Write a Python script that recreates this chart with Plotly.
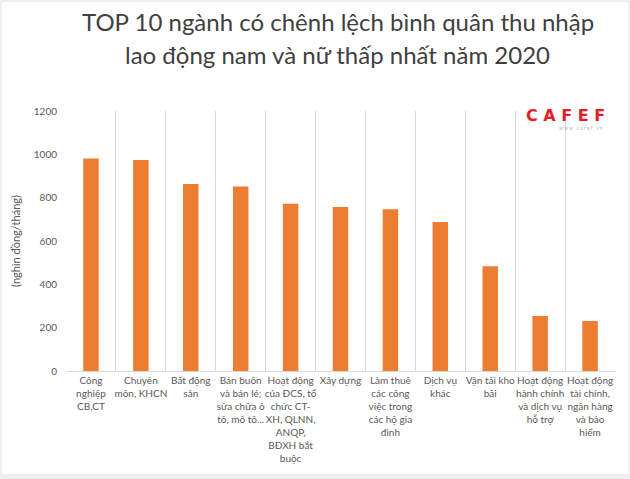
import plotly.graph_objects as go

categories = [
    "Công<br>nghiệp<br>CB,CT",
    "Chuyên<br>môn, KHCN",
    "Bất động<br>sản",
    "Bán buôn<br>và bán lẻ;<br>sửa chữa ô<br>tô, mô tô...",
    "Hoạt động<br>của ĐCS, tổ<br>chức CT-<br>XH, QLNN,<br>ANQP,<br>BĐXH bắt<br>buộc",
    "Xây dựng",
    "Làm thuê<br>các công<br>việc trong<br>các hộ gia<br>đình",
    "Dịch vụ<br>khác",
    "Vận tải kho<br>bãi",
    "Hoạt động<br>hành chính<br>và dịch vụ<br>hỗ trợ",
    "Hoạt động<br>tài chính,<br>ngân hàng<br>và bảo<br>hiểm",
]
values = [981, 974, 863, 852, 772, 757, 746, 688, 483, 254, 231]
y_ticks = [0, 200, 400, 600, 800, 1000, 1200]
title_lines = ["TOP 10 ngành có chênh lệch bình quân thu nhập",
               "lao động nam và nữ thấp nhất năm 2020"]

FONT = "Lato, Open Sans, sans-serif"
GRAY = "#595959"

fig = go.Figure(go.Bar(
    x=categories, y=values,
    marker=dict(color="#ED7D31", line=dict(width=0)),
    width=0.31,
))

fig.update_layout(
    width=630, height=479,
    margin=dict(l=66, r=15, t=111, b=108),
    paper_bgcolor="white", plot_bgcolor="white",
    showlegend=False,
    xaxis=dict(
        tickson="boundaries", showgrid=True, gridcolor="#D9D9D9", gridwidth=1,
        showline=True, linecolor="#D9D9D9", ticks="",
        tickfont=dict(family=FONT, size=10, color=GRAY),
        tickangle=0, fixedrange=True,
    ),
    yaxis=dict(
        range=[0, 1200], tickvals=y_ticks, showgrid=False, zeroline=False,
        tickfont=dict(family=FONT, size=10, color=GRAY),
        title=dict(text="(nghìn đồng/tháng)", font=dict(family=FONT, size=11, color=GRAY), standoff=10),
        ticklen=6, ticks="outside", tickcolor="white",
    ),
    font=dict(family=FONT),
)

# Title as two lines with the reference's line spacing
for i, line in enumerate(title_lines):
    fig.add_annotation(
        text=line, xref="paper", yref="paper", x=0.5 - 3 / 549, y=1 + (89 - 33 * i) / 260,
        xanchor="center", yanchor="middle", showarrow=False,
        font=dict(family=FONT, size=24, color="#404040"),
    )

fig.add_annotation(
    text="<b>C A F E F</b>", xref="paper", yref="paper", x=1.0 - 8 / 549, y=1 + 7 / 260,
    xanchor="right", yanchor="top", showarrow=False,
    font=dict(family="DejaVu Sans, sans-serif", size=16, color="#E21F26"),
)
fig.add_annotation(
    text="w w w . c a f e f . v n", xref="paper", yref="paper", x=1.0 - 10 / 549, y=1 - 12 / 260,
    xanchor="right", yanchor="top", showarrow=False,
    font=dict(family=FONT, size=5, color="#BBBBBB"),
)
fig.add_shape(type="rect", xref="paper", yref="paper",
              x0=-65 / 549, x1=1 + 14 / 549, y0=-107 / 260, y1=1 + 110 / 260,
              line=dict(color="#E0E0E0", width=1))
fig.add_shape(type="rect", xref="paper", yref="paper",
              x0=-66 / 549, x1=1 + 15 / 549, y0=-108 / 260, y1=-103 / 260,
              fillcolor="#EEEEEE", line=dict(width=0))

fig.write_html("out.html")
